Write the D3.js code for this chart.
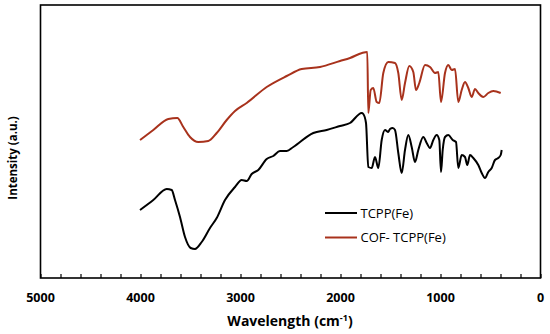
<!DOCTYPE html>
<html>
<head>
<meta charset="utf-8">
<script src="https://cdn.jsdelivr.net/npm/d3@7"></script>
<style>
  body { margin: 0; background: #fff; }
  text { font-family: "Open Sans", sans-serif; }
</style>
</head>
<body>
<div id="chart"></div>
<script>
// FTIR spectra, wavenumber (cm-1) vs intensity (a.u.)
const tcppWn = [4005, 3872, 3738, 3688, 3655, 3605, 3555, 3498, 3455, 3388, 3305, 3238, 3155, 3055, 2988, 2938, 2888, 2822, 2738, 2672, 2605, 2538, 2472, 2272, 2138, 2005, 1905, 1788, 1772, 1745, 1722, 1688, 1655, 1622, 1588, 1555, 1522, 1505, 1478, 1455, 1422, 1388, 1355, 1322, 1288, 1255, 1222, 1172, 1138, 1105, 1072, 1038, 1012, 995, 978, 955, 922, 878, 845, 822, 788, 755, 732, 705, 672, 622, 588, 555, 522, 488, 455, 422, 398, 388];
const tcppVal = [68, 78, 89, 88, 78, 61, 41, 30, 29, 36, 50, 60, 78, 91, 98, 97, 104, 108, 119, 122, 127, 127, 131, 145, 148, 152, 155, 165, 164, 155, 111, 110, 121, 110, 138, 148, 146, 149, 150, 148, 125, 105, 128, 143, 131, 116, 128, 141, 135, 130, 138, 143, 138, 106, 128, 141, 143, 138, 136, 110, 123, 121, 113, 123, 120, 113, 105, 100, 106, 110, 118, 120, 123, 128];

const cofWn = [4005, 3872, 3722, 3632, 3572, 3505, 3422, 3322, 3238, 3138, 3055, 2938, 2738, 2538, 2388, 2205, 2005, 1905, 1785, 1732, 1722, 1698, 1672, 1638, 1612, 1572, 1522, 1455, 1422, 1388, 1355, 1312, 1272, 1245, 1212, 1155, 1105, 1055, 1022, 995, 955, 922, 888, 855, 822, 788, 755, 722, 688, 655, 622, 572, 522, 472, 398];
const cofVal = [138, 148, 159, 160, 151, 141, 136, 137, 145, 158, 167, 175, 191, 202, 209, 211, 217, 220, 225, 226, 165, 188, 190, 176, 175, 205, 216, 215, 205, 178, 195, 212, 206, 188, 195, 213, 211, 205, 206, 176, 205, 213, 208, 209, 176, 188, 196, 190, 181, 189, 185, 181, 185, 187, 185];

const xTickLabels = [5000, 4000, 3000, 2000, 1000, 0];
const seriesNames = ["TCPP(Fe)", "COF- TCPP(Fe)"];
const seriesColors = ["#000000", "#a8321c"];

const width = 550, height = 334;
const margin = { top: 5, right: 9.5, bottom: 56, left: 40.5 };

const svg = d3.select("#chart").append("svg")
  .attr("width", width)
  .attr("height", height);

const x = d3.scaleLinear()
  .domain([5000, 0])
  .range([margin.left, width - margin.right]);

const y = d3.scaleLinear()
  .domain([0, 273])
  .range([height - margin.bottom, margin.top]);

// minor ticks every 200, pointing inward
const xAxis = d3.axisBottom(x)
  .tickValues(d3.range(0, 5001, 200))
  .tickSizeInner(-4)
  .tickSizeOuter(0)
  .tickFormat("");

const gx = svg.append("g")
  .attr("transform", `translate(0,${height - margin.bottom})`)
  .call(xAxis);
gx.select(".domain").remove();
gx.selectAll(".tick line").attr("stroke", "#000").attr("stroke-width", 1.2);

// tick labels
svg.append("g").selectAll("text")
  .data(xTickLabels)
  .join("text")
  .attr("x", d => x(d))
  .attr("y", 302)
  .attr("text-anchor", "middle")
  .style("font-size", "12.5px")
  .style("font-weight", "bold")
  .text(d => d);

// frame
svg.append("rect")
  .attr("x", margin.left)
  .attr("y", margin.top)
  .attr("width", width - margin.left - margin.right)
  .attr("height", height - margin.top - margin.bottom)
  .attr("fill", "none")
  .attr("stroke", "#000")
  .attr("stroke-width", 1.6);

// axis titles
const xTitle = svg.append("text")
  .attr("x", 290)
  .attr("y", 326)
  .attr("text-anchor", "middle")
  .style("font-size", "14px")
  .style("font-weight", "bold");
xTitle.append("tspan").text("Wavelength (cm");
xTitle.append("tspan").attr("dy", -5).style("font-size", "9px").text("-1");
xTitle.append("tspan").attr("dy", 5).text(")");

svg.append("text")
  .attr("transform", "translate(16.5,158) rotate(-90)")
  .attr("text-anchor", "middle")
  .style("font-size", "11.5px")
  .style("font-weight", "bold")
  .text("Intensity (a.u.)");

// spectra
const line = d3.line()
  .x(d => x(d[0]))
  .y(d => y(d[1]))
  .curve(d3.curveMonotoneX);

const series = [
  d3.zip(tcppWn, tcppVal),
  d3.zip(cofWn, cofVal)
];

svg.append("g").selectAll("path")
  .data(series)
  .join("path")
  .attr("d", line)
  .attr("fill", "none")
  .attr("stroke", (d, i) => seriesColors[i])
  .attr("stroke-width", 2)
  .attr("stroke-linejoin", "round");

// legend
const legend = svg.append("g").selectAll("g")
  .data(seriesNames)
  .join("g")
  .attr("transform", (d, i) => `translate(325,${213 + i * 24.5})`);

legend.append("line")
  .attr("x1", 0).attr("x2", 32)
  .attr("stroke", (d, i) => seriesColors[i])
  .attr("stroke-width", 2);

legend.append("text")
  .attr("x", 35.5)
  .attr("y", 4.5)
  .style("font-size", "13px")
  .text(d => d);
</script>
</body>
</html>
